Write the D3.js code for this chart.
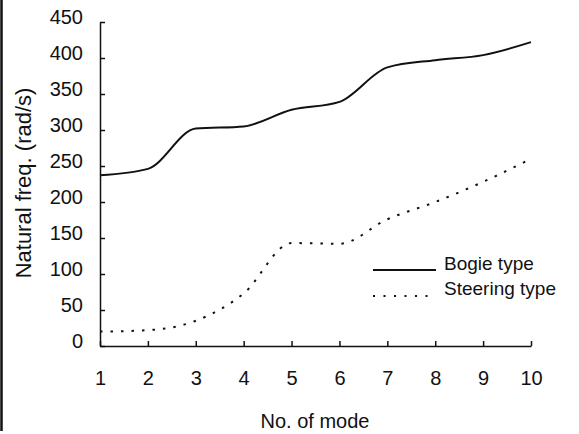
<!DOCTYPE html>
<html lang="en">
<head>
<meta charset="UTF-8"/>
<title>Natural frequency by mode</title>
<script src="https://d3js.org/d3.v7.min.js"></script>
<style>
    body { margin: 0; background: #fff; }
    svg { display: block; font-family: "Liberation Sans", Arial, sans-serif; }
    .axis path, .axis line { stroke: #111; stroke-width: 1.5; }
    .axis text { font-size: 20px; fill: #111; }
</style>
</head>
<body>
<script>
var w = 579;
var h = 434;

// values
var modes = [1, 2, 3, 4, 5, 6, 7, 8, 9, 10];
var bogie = [237, 246, 302, 305, 328, 339, 387, 397, 404, 422];
var steering = [20, 22, 35, 73, 143, 142, 176, 200, 228, 260];
var yTicks = [0, 50, 100, 150, 200, 250, 300, 350, 400, 450];
var seriesNames = ["Bogie type", "Steering type"];

var padL = 100, padR = 531, padT = 22, padB = 346;

var xScale = d3.scaleLinear()
    .domain([1, 10])
    .range([padL, padR]);

var yScale = d3.scaleLinear()
    .domain([0, 450])
    .range([padB, padT]);

var svg = d3.select("body")
    .append("svg")
    .attr("width", w)
    .attr("height", h);

// scan edge on the left
svg.append("line")
    .attr("x1", 1.5).attr("x2", 1.5)
    .attr("y1", 0).attr("y2", 431)
    .attr("stroke", "#111")
    .attr("stroke-width", 2.5);

var xAxis = d3.axisBottom(xScale)
    .tickValues(modes)
    .tickFormat(d3.format("d"))
    .tickSizeInner(-5)
    .tickSizeOuter(0)
    .tickPadding(25);

var yAxis = d3.axisLeft(yScale)
    .tickValues(yTicks)
    .tickSizeInner(-5)
    .tickSizeOuter(0)
    .tickPadding(17);

svg.append("g")
    .attr("class", "axis")
    .attr("transform", "translate(0," + padB + ")")
    .call(xAxis);

svg.append("g")
    .attr("class", "axis")
    .attr("transform", "translate(" + padL + ",0)")
    .call(yAxis)
    .selectAll("text")
    .attr("dy", "0.05em");

var line = d3.line()
    .x(function(d, i) { return xScale(modes[i]); })
    .y(function(d) { return yScale(d); })
    .curve(d3.curveMonotoneX);

svg.append("path")
    .datum(bogie)
    .attr("d", line)
    .attr("fill", "none")
    .attr("stroke", "#111")
    .attr("stroke-width", 2);

svg.append("path")
    .datum(steering)
    .attr("d", line)
    .attr("fill", "none")
    .attr("stroke", "#111")
    .attr("stroke-width", 2)
    .attr("stroke-dasharray", "2.5,8");

// legend
var legend = svg.append("g");
seriesNames.forEach(function(name, i) {
    var y = 270 + i * 26;
    legend.append("line")
        .attr("x1", 373).attr("x2", 436)
        .attr("y1", y).attr("y2", y)
        .attr("stroke", "#111")
        .attr("stroke-width", 2)
        .attr("stroke-dasharray", i == 0 ? null : "2,8.5");
    legend.append("text")
        .attr("x", 444)
        .attr("y", y + (i == 0 ? 0 : -1))
        .attr("font-size", "19px")
        .attr("fill", "#111")
        .text(name);
});

// axis titles
svg.append("text")
    .attr("x", 315)
    .attr("y", 428)
    .attr("text-anchor", "middle")
    .attr("font-size", "20px")
    .attr("fill", "#111")
    .text("No. of mode");

svg.append("text")
    .attr("transform", "translate(31,183) rotate(-90)")
    .attr("text-anchor", "middle")
    .attr("font-size", "22px")
    .attr("fill", "#111")
    .text("Natural freq. (rad/s)");
</script>
</body>
</html>
